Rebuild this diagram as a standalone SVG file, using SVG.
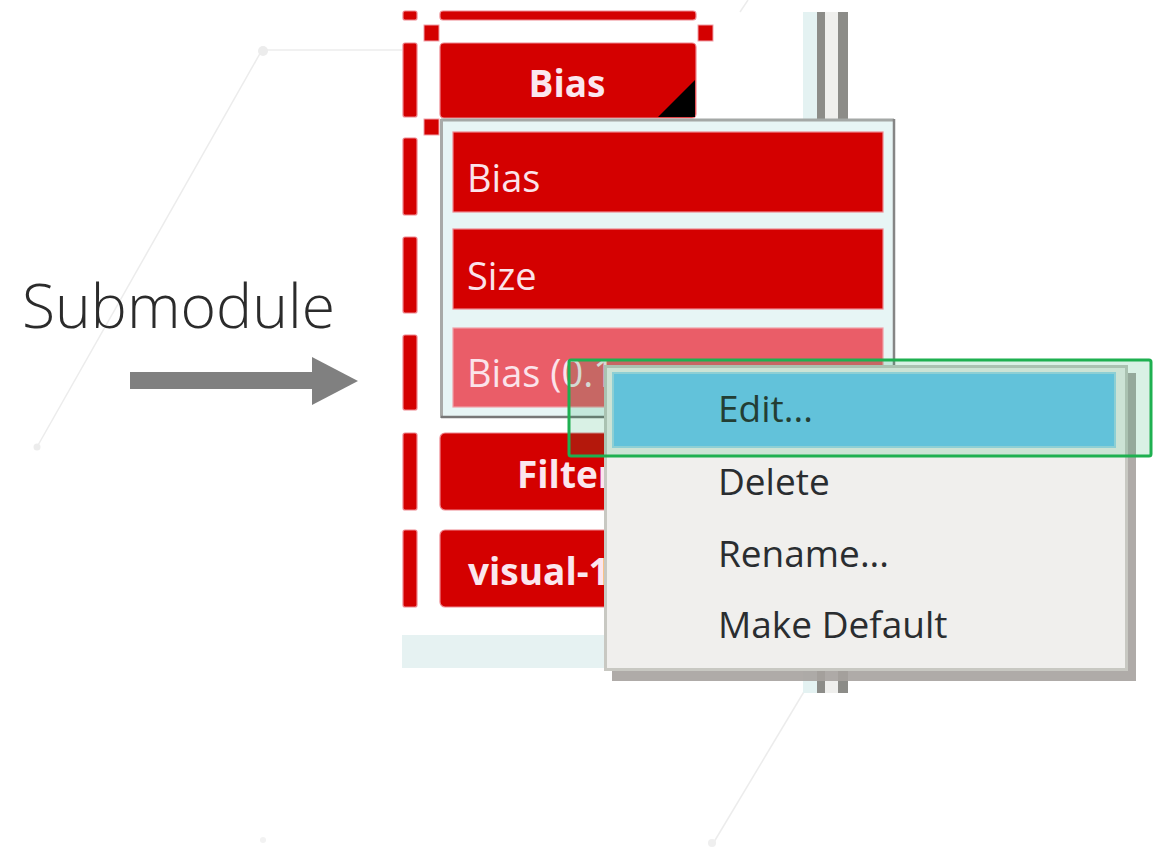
<svg xmlns="http://www.w3.org/2000/svg" width="1160" height="857" viewBox="0 0 1160 857">
<defs>
<style>
.faint{stroke:#ececec;stroke-width:1.5;fill:none}
.red{fill:#d40000;stroke:#ee8890;stroke-width:1.2}
.btn{font-family:"Open Sans","Noto Sans",sans-serif;font-weight:bold;font-size:37px;fill:#fbe6ee}
.item{font-family:"Open Sans","Noto Sans",sans-serif;font-size:38px;fill:#fbe3ea}
.menu{font-family:"Open Sans","Noto Sans",sans-serif;font-size:37px;fill:#2a2d30}
.handle{fill:#d40000;stroke:#f0a0a8;stroke-width:1}
</style>
</defs>
<rect width="1160" height="857" fill="#ffffff"/>
<g id="background-lines">
<path class="faint" d="M262 50 L402 50"/>
<path class="faint" d="M262 50 L37 447"/>
<circle cx="263" cy="51" r="5" fill="#ececec"/>
<circle cx="37" cy="447" r="3.5" fill="#ececec"/>
<path class="faint" d="M805 690 L714 842"/>
<circle cx="712" cy="843" r="4" fill="#efefef"/>
<circle cx="263" cy="840" r="3" fill="#f2f2f2"/>
<path class="faint" d="M748 0 L740 12"/>
</g>
<g id="label-submodule">
<text x="22" y="328" font-family="'Open Sans','Noto Sans',sans-serif" font-weight="300" font-size="60" fill="#2b2b2b" textLength="313" lengthAdjust="spacingAndGlyphs">Submodule</text>
</g>
<g id="scrollbar">
<rect x="803" y="12" width="14" height="681" fill="#e4f2f2"/>
<rect x="817" y="12" width="8" height="681" fill="#8c8c88"/>
<rect x="825" y="12" width="13" height="681" fill="#efefed"/>
<rect x="838" y="12" width="10" height="681" fill="#8c8c88"/>
</g>
<g id="panel">
<rect x="402" y="635" width="210" height="33" fill="#e6f2f2"/>
<rect class="red" x="403" y="11" width="14" height="9" rx="2"/>
<rect class="red" x="403" y="43" width="14" height="74" rx="2"/>
<rect class="red" x="403" y="138" width="14" height="77" rx="2"/>
<rect class="red" x="403" y="237" width="14" height="76" rx="2"/>
<rect class="red" x="403" y="335" width="14" height="75" rx="2"/>
<rect class="red" x="403" y="433" width="14" height="77" rx="2"/>
<rect class="red" x="403" y="530" width="14" height="77" rx="2"/>
<rect class="red" x="440" y="11" width="256" height="9" rx="3"/>
</g>
<g id="button-bias">
<rect class="red" x="440" y="43" width="256" height="75" rx="4"/>
<path d="M658 117 L695 117 L695 80 Z" fill="#000000"/>
<text class="btn" x="567" y="97" text-anchor="middle">Bias</text>
</g>
<g id="handles">
<rect class="handle" x="424" y="25" width="15" height="16"/>
<rect class="handle" x="698" y="25" width="15" height="16"/>
<rect class="handle" x="424" y="119" width="15" height="16"/>
</g>
<g id="button-filter">
<rect class="red" x="440" y="433" width="256" height="77" rx="5"/>
<text class="btn" x="517" y="488">Filter</text>
</g>
<g id="button-visual">
<rect class="red" x="440" y="530" width="256" height="77" rx="5"/>
<text class="btn" x="468" y="585">visual-1</text>
</g>
<g id="dropdown">
<rect x="441" y="119" width="453" height="298" fill="#e7f5f5"/>
<path d="M441 120 L894 120" stroke="#a4a8a6" stroke-width="3"/>
<path d="M441.5 119 L441.5 418" stroke="#a8aaa8" stroke-width="3"/>
<path d="M894 119 L894 418" stroke="#858585" stroke-width="2.5"/>
<path d="M441 417 L894 417" stroke="#777777" stroke-width="2.5"/>
<rect class="red" x="453" y="132" width="430" height="80"/>
<text class="item" x="467" y="192">Bias</text>
<rect class="red" x="453" y="229" width="430" height="80"/>
<text class="item" x="467" y="290">Size</text>
<rect x="453" y="328" width="430" height="79" fill="#ea5d68" stroke="#f0a0a8" stroke-width="1.2"/>
<text class="item" x="467" y="387">Bias (0.1</text>
</g>
<g id="context-menu">
<rect x="612" y="373" width="524" height="308" fill="#a6a29e" opacity="0.9"/>
<rect x="604" y="365" width="524" height="306" fill="#c8c8c2"/>
<rect x="607" y="368" width="518" height="300" fill="#f0efed"/>
<rect x="613" y="373" width="502" height="74" fill="#74c8f2" stroke="#a6d8ec" stroke-width="2"/>
<text class="menu" x="718" y="422">Edit...</text>
<text class="menu" x="718" y="495">Delete</text>
<text class="menu" x="718" y="567">Rename...</text>
<text class="menu" x="718" y="638">Make Default</text>
</g>
<g id="connectors">
<rect x="130" y="372" width="183" height="17" fill="#808080"/>
<path d="M312 357 L358 381 L312 405 Z" fill="#808080"/>
</g>
<g id="highlight">
<rect x="569" y="360" width="582" height="96" rx="2" fill="#00a050" fill-opacity="0.15" stroke="#1eb050" stroke-width="3"/>
</g>
</svg>
